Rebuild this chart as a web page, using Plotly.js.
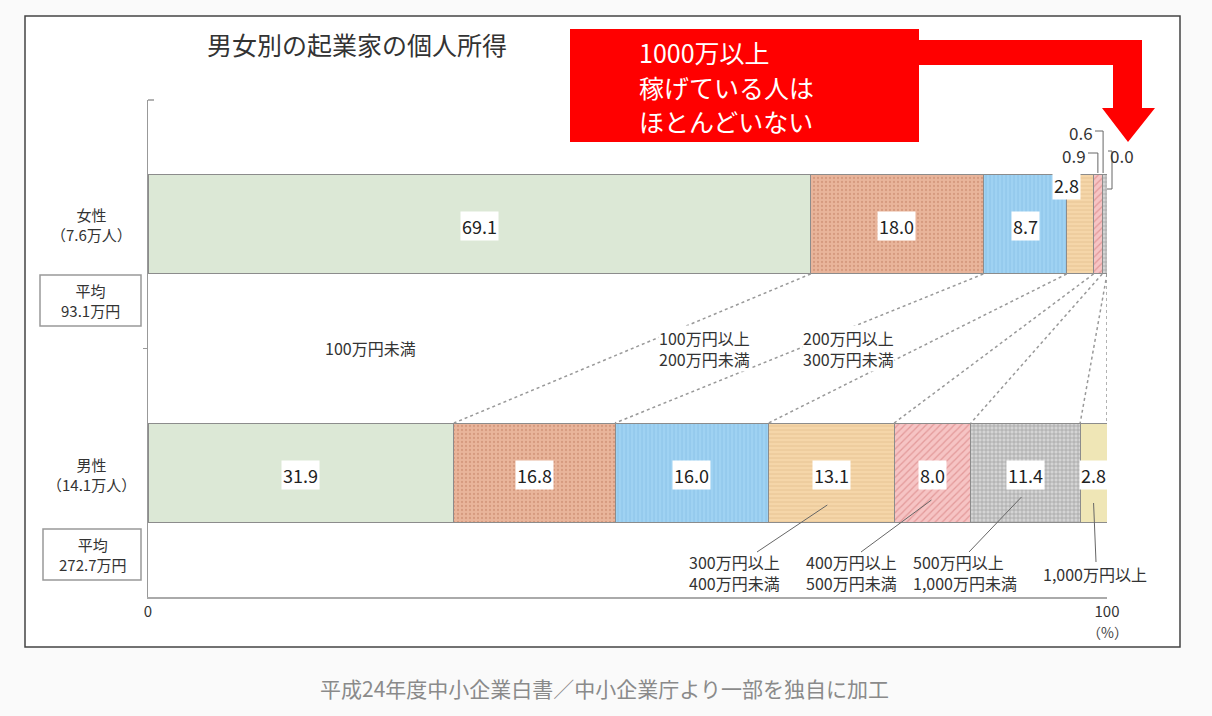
<!DOCTYPE html>
<html>
<head>
<meta charset="utf-8">
<script src="https://cdn.plot.ly/plotly-3.0.1.min.js"></script>
<style>html,body{margin:0;padding:0;background:#fafafa;}#chart{width:1212px;height:716px;}</style>
</head>
<body>
<div id="chart"></div>
<script>
// ---- data ----
const categories = ['100万円未満','100万円以上200万円未満','200万円以上300万円未満','300万円以上400万円未満','400万円以上500万円未満','500万円以上1,000万円未満','1,000万円以上'];
const categoryLines = [['100万円未満'],['100万円以上','200万円未満'],['200万円以上','300万円未満'],['300万円以上','400万円未満'],['400万円以上','500万円未満'],['500万円以上','1,000万円未満'],['1,000万円以上']];
const groupNames = ['男性','女性'];          // y = 0, 1
const groupCounts = ['14.1万人','7.6万人'];
const groupAverages = ['272.7万円','93.1万円'];
const maleShare   = [31.9, 16.8, 16.0, 13.1, 8.0, 11.4, 2.8];
const femaleShare = [69.1, 18.0, 8.7, 2.8, 0.9, 0.6, 0.0];
const xTickVals = [0, 100];
const xTickText = ['0', '100'];

// ---- styles ----
const FONT = '"Noto Sans CJK JP", "Noto Sans", sans-serif';
const styles = [
  {bg:'#dce8d6', fg:'#c9dac2', shape:''},
  {bg:'#e9b59b', fg:'#d69a7f', shape:'.', size:4, sol:0.25},
  {bg:'#9fd2f2', fg:'#86bfe6', shape:'|', size:4, sol:0.2},
  {bg:'#f5d6a9', fg:'#e3c08e', shape:'-', size:4, sol:0.2},
  {bg:'#f6c4c4', fg:'#e39a9a', shape:'/', size:5, sol:0.25},
  {bg:'#d4d4d4', fg:'#9c9c9c', shape:'+', size:4, sol:0.3},
  {bg:'#efe6b6', fg:'#e2d8a0', shape:''}
];

// ---- geometry helpers (plot area pixels) ----
const L = 148, T = 100, W = 959, H = 497;
const px = x => (x - L) / W;
const py = y => (T + H - y) / H;
const dx = v => L + v / 100 * W;   // data x -> pixel x

const cum = arr => { let s = 0; return arr.map(v => (s += v)); };
const cumM = cum(maleShare), cumF = cum(femaleShare);
const midM = maleShare.map((v, i) => cumM[i] - v / 2);
const midF = femaleShare.map((v, i) => cumF[i] - v / 2);

// ---- traces ----
const traces = categories.map((c, i) => {
  const s = styles[i];
  const marker = {color: s.bg, line: {color: '#8c8c8c', width: 1}};
  if (s.shape) marker.pattern = {shape: s.shape, bgcolor: s.bg, fgcolor: s.fg, size: s.size, solidity: s.sol, fillmode: 'replace'};
  return {type: 'bar', orientation: 'h', name: c, x: [maleShare[i], femaleShare[i]], y: [0, 1],
          width: 0.4, marker: marker, hoverinfo: 'name+x', showlegend: false};
});

// ---- annotations ----
const ann = [];
const valFont = {family: FONT, size: 18, color: '#222'};
const lblFont = {family: FONT, size: 15, color: '#333'};
const smallFont = {family: FONT, size: 16, color: '#333'};
// paper-anchored text helper (pixel position -> paper)
const txt = (x, y, text, font, extra) => Object.assign({x: px(x), y: py(y), xref: 'paper', yref: 'paper',
  xanchor: 'center', yanchor: 'middle', showarrow: false, text: text, font: font}, extra || {});

// value labels in bars
const valAnn = (x, y, v, extra) => Object.assign({x: x, y: y, xref: 'x', yref: 'y', text: v.toFixed(1),
  showarrow: false, xanchor: 'center', yanchor: 'middle', font: valFont, bgcolor: '#fff', borderpad: 1, yshift: -2}, extra || {});
maleShare.forEach((v, i) => ann.push(valAnn(midM[i], 0, v)));
[0, 1, 2].forEach(i => ann.push(valAnn(midF[i], 1, femaleShare[i])));
ann.push(valAnn(midF[3], 1, femaleShare[3], {xshift: -14, yshift: 39}));
const tinyFont = {family: FONT, size: 17, color: '#333'};
ann.push(valAnn(midF[4], 1, femaleShare[4], {xshift: -24, yshift: 69, bgcolor: 'rgba(0,0,0,0)', font: tinyFont}));
ann.push(valAnn(midF[5], 1, femaleShare[5], {xshift: -24, yshift: 92, bgcolor: 'rgba(0,0,0,0)', font: tinyFont}));
ann.push(valAnn(Math.min(midF[6], 100), 1, femaleShare[6], {xshift: 15, yshift: 69, bgcolor: 'rgba(0,0,0,0)', font: tinyFont}));

// group labels (left)
const groupY = [474, 224];
[1, 0].forEach(g => ann.push(txt(91, groupY[g], groupNames[g] + '<br>（' + groupCounts[g] + '）', lblFont)));
const avgBoxes = [[43, 529, 141, 580], [40, 275, 141, 326]];
[1, 0].forEach(g => {
  const b = avgBoxes[g];
  ann.push(txt((b[0] + b[2]) / 2, (b[1] + b[3]) / 2, '平均<br>' + groupAverages[g], lblFont));
});

// category labels
const br = i => categoryLines[i].join('<br>');
ann.push(txt(370, 348, br(0), smallFont));
ann.push(txt(704, 348, br(1), smallFont, {bgcolor: '#fff', borderpad: 0}));
ann.push(txt(848, 348, br(2), smallFont, {bgcolor: '#fff', borderpad: 0}));
ann.push(txt(734, 572, br(3), smallFont));
ann.push(txt(851, 572, br(4), smallFont));
ann.push(txt(911, 572, br(5), smallFont, {xanchor: 'left', align: 'left'}));
ann.push(txt(1095, 574, br(6), smallFont));

// (%)
ann.push(txt(dx(100), 632, '（%）', {family: FONT, size: 14, color: '#444'}));

// red callout text
['1000万以上', '稼げている人は', 'ほとんどいない'].forEach((t, i) =>
  ann.push(txt(637, [52, 87, 121][i], t, {family: FONT, size: 25, color: '#fff'}, {xanchor: 'left'})));

// caption
ann.push(txt(604, 688, '平成24年度中小企業白書／中小企業庁より一部を独自に加工', {family: FONT, size: 21, color: '#8a8a8a'}));

// ---- shapes ----
const shapes = [];
const P = pts => pts.map((p, i) => (i ? 'L' : 'M') + px(p[0]) + ',' + py(p[1])).join(' ');
// frame
shapes.push({type: 'rect', xref: 'paper', yref: 'paper', x0: px(25), x1: px(1180), y0: py(647), y1: py(16),
  fillcolor: '#fff', line: {color: '#444', width: 1.5}, layer: 'below'});
// red box + arrow
shapes.push({type: 'rect', xref: 'paper', yref: 'paper', x0: px(570), x1: px(919), y0: py(142), y1: py(29),
  fillcolor: '#ff0000', line: {width: 0}});
shapes.push({type: 'path', xref: 'paper', yref: 'paper',
  path: P([[915, 40], [1142, 40], [1142, 108], [1155, 108], [1128, 142], [1102, 108], [1113, 108], [1113, 65], [915, 65]]) + ' Z',
  fillcolor: '#ff0000', line: {width: 0}});
// average boxes
avgBoxes.forEach(b => shapes.push({type: 'rect', xref: 'paper', yref: 'paper', x0: px(b[0]), x1: px(b[2]),
  y0: py(b[3]), y1: py(b[1]), line: {color: '#999', width: 1.5}}));
// top tick of y axis
shapes.push({type: 'line', xref: 'paper', yref: 'paper', x0: px(148), x1: px(154), y0: py(100), y1: py(100), line: {color: '#999', width: 1.5}});
// dotted connectors between bars
const connF = cumF.slice(0, 6).concat([100]);
const connM = cumM.slice(0, 6).concat([100]);
connF.forEach((f, i) => shapes.push({type: 'line', xref: 'x', yref: 'y', x0: Math.min(f, 100), y0: 0.8, x1: connM[i], y1: 0.2,
  line: {color: '#999', width: 1.5, dash: 'dot'}}));
// bottom leader lines
const lead = [[3, -4, 505, 757, 552], [4, -1, 500, 861, 552], [5, -4, 497, 969, 552], [6, 0, 503, 1096, 562]];
lead.forEach(l => shapes.push({type: 'line', xref: 'paper', yref: 'paper',
  x0: px(dx(midM[l[0]]) + l[1]), y0: py(l[2]), x1: px(l[3]), y1: py(l[4]), line: {color: '#666', width: 1}}));
// small-value brackets (female)
const b6 = dx(midF[5]) - 2, b5 = dx(midF[4]);
shapes.push({type: 'path', xref: 'paper', yref: 'paper', path: P([[1095, 131], [b6, 131], [b6, 173]]), line: {color: '#666', width: 1}});
shapes.push({type: 'path', xref: 'paper', yref: 'paper', path: P([[1088, 153], [b5, 153], [b5, 173]]), line: {color: '#666', width: 1}});
shapes.push({type: 'path', xref: 'paper', yref: 'paper', path: P([[1108, 151], [1112, 151], [1112, 189], [dx(100), 189]]), line: {color: '#666', width: 1}});

const layout = {
  width: 1212, height: 716,
  margin: {l: L, r: 1212 - L - W, t: T, b: 716 - T - H, pad: 0},
  paper_bgcolor: '#fafafa', plot_bgcolor: 'rgba(0,0,0,0)',
  barmode: 'stack', bargap: 0,
  font: {family: FONT, color: '#333'},
  title: {text: '男女別の起業家の個人所得', x: 357 / 1212, xref: 'container', xanchor: 'center',
          y: 1 - 46 / 716, yref: 'container', yanchor: 'middle', font: {family: FONT, size: 25, color: '#333'}},
  xaxis: {range: [0, 100], tickvals: xTickVals, ticktext: xTickText, ticks: 'inside', ticklen: 6, tickcolor: '#aaa',
          showline: true, linecolor: '#aaa', linewidth: 2, showgrid: false, zeroline: false,
          tickfont: {family: FONT, size: 15, color: '#333'}, fixedrange: true},
  yaxis: {range: [-0.5, 1.5], tickvals: [0.5], ticks: 'outside', ticklen: 4, tickcolor: '#999', showticklabels: false,
          showline: true, linecolor: '#999', linewidth: 1.5, showgrid: false, zeroline: false, fixedrange: true},
  annotations: ann,
  shapes: shapes,
  showlegend: false
};

Plotly.newPlot('chart', traces, layout, {displayModeBar: false, staticPlot: true});
</script>
</body>
</html>
